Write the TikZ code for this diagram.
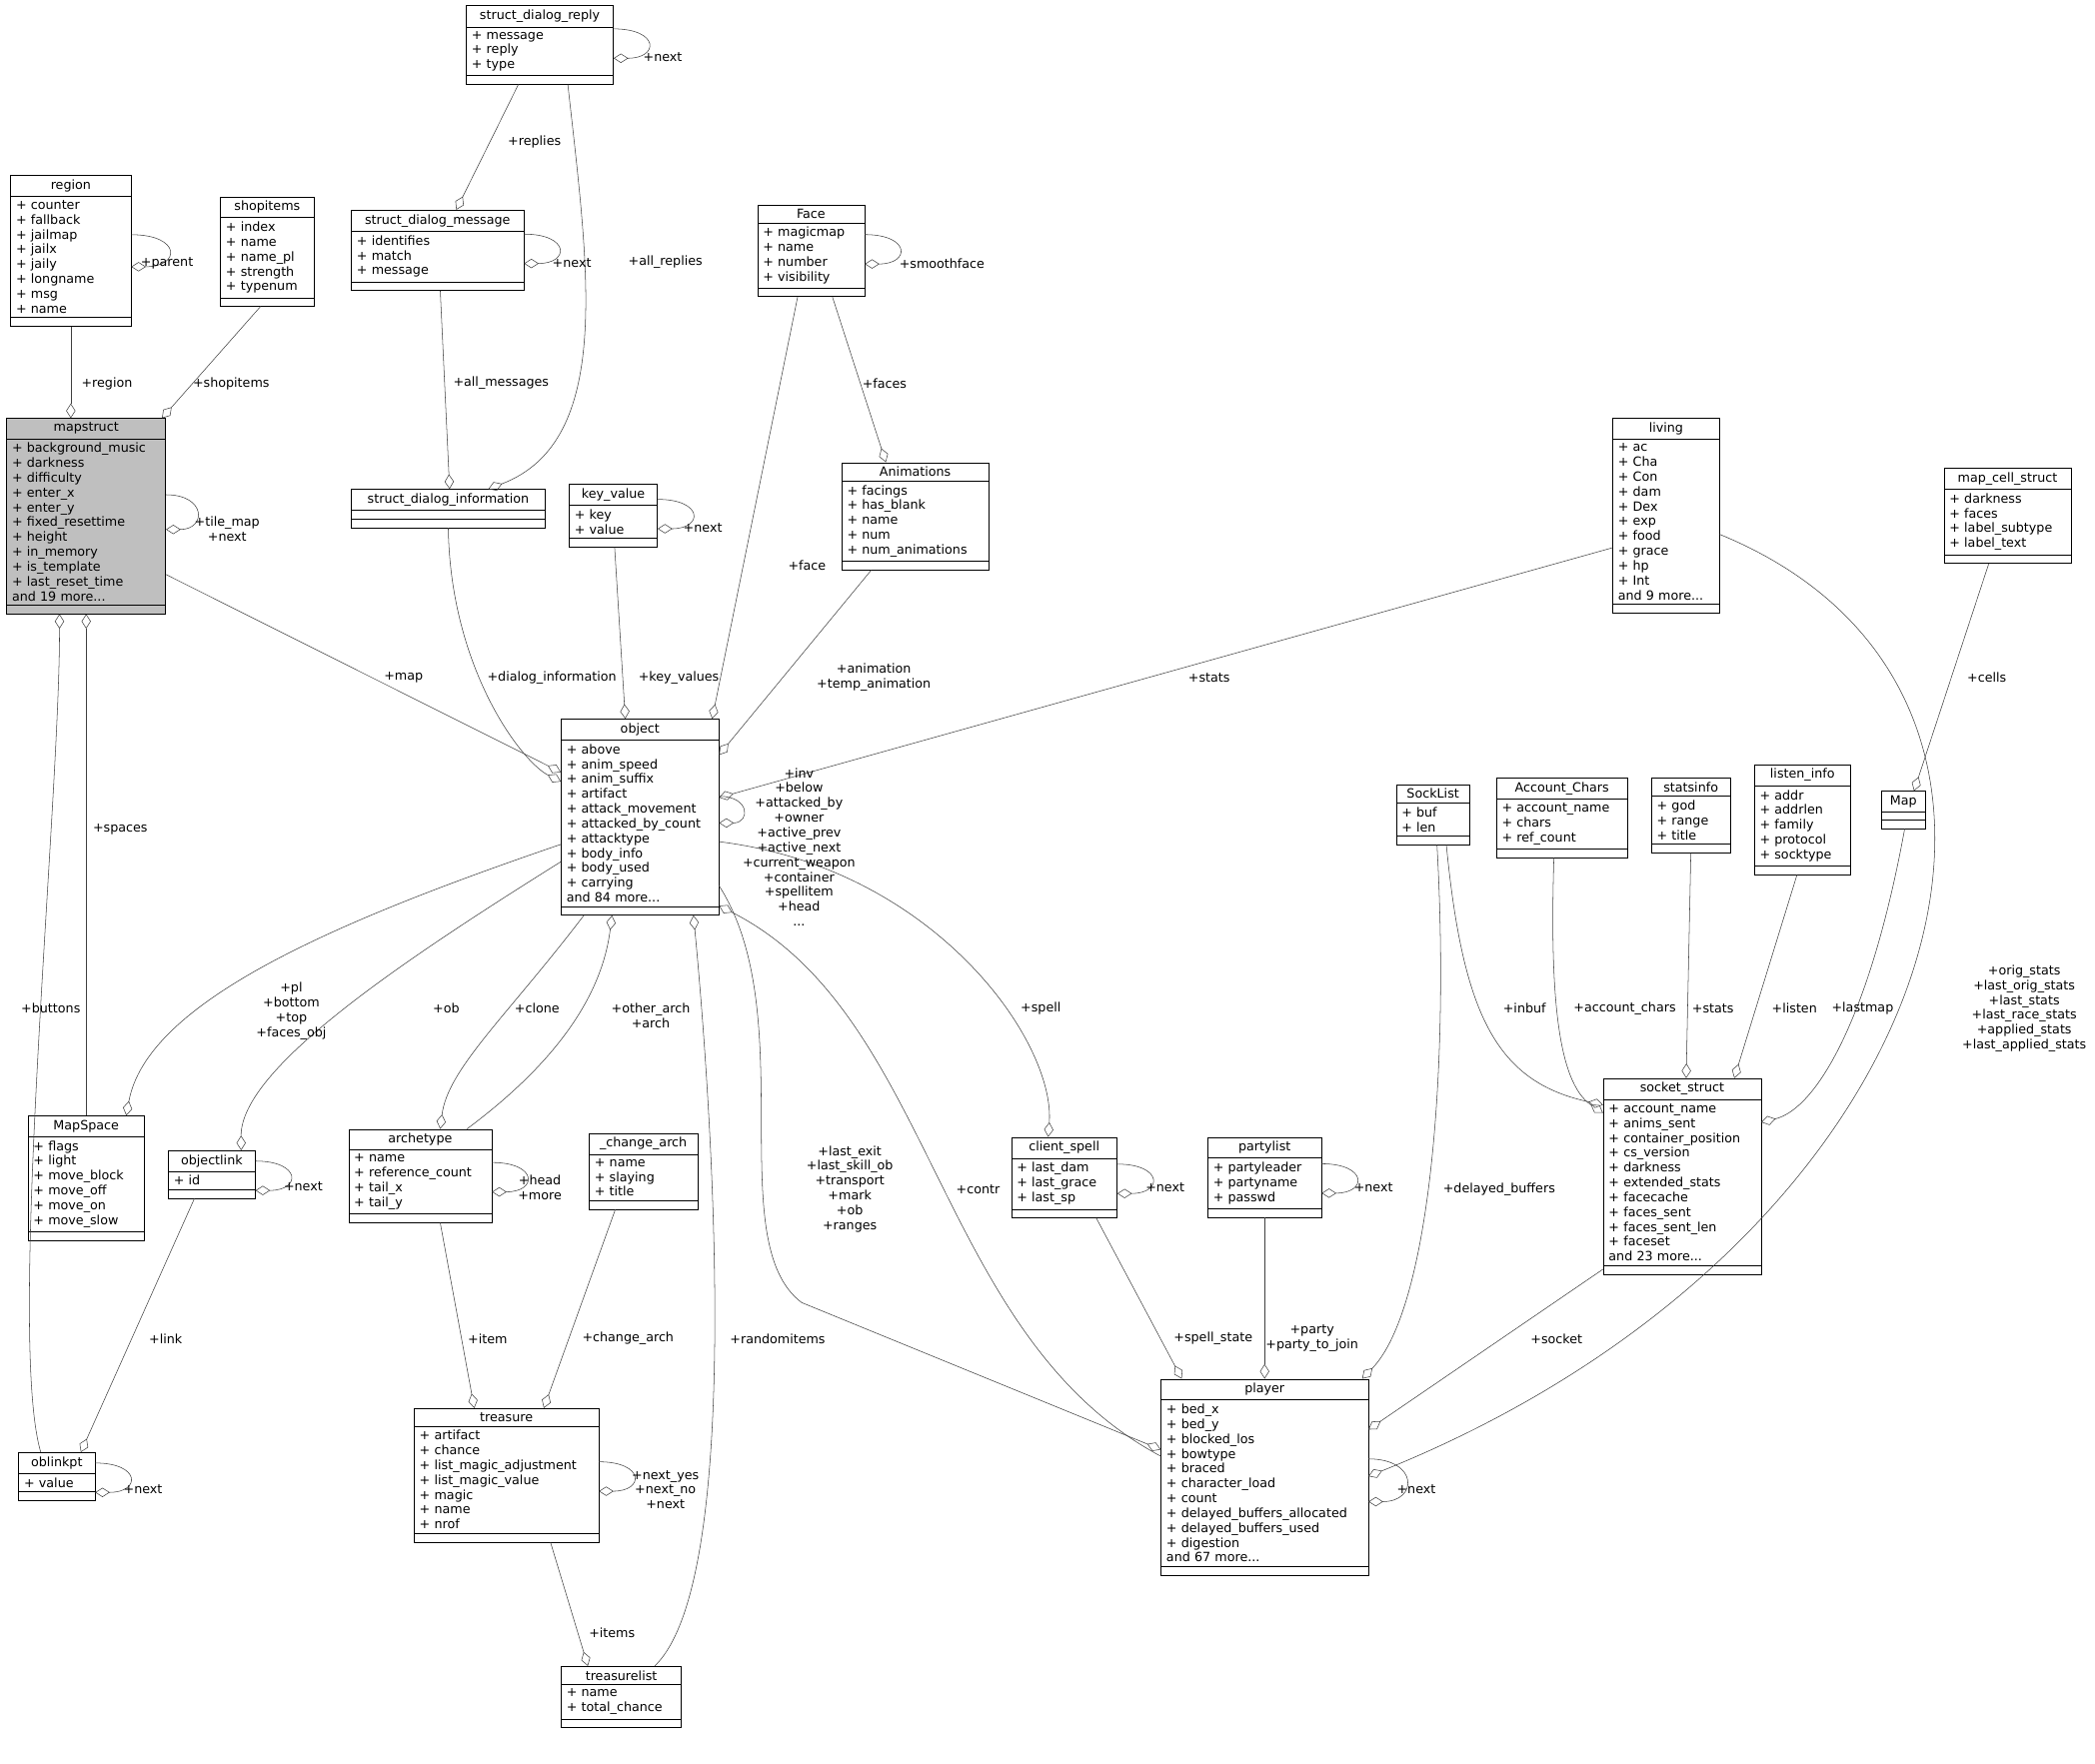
\documentclass[tikz,border=0pt]{standalone}
\usepackage{fontspec}
\setmainfont{DejaVu Sans}
\usetikzlibrary{shapes.multipart, arrows.meta}
\tikzset{
  cls/.style={rectangle split, rectangle split parts=3, draw=black, anchor=north,
    inner xsep=4pt, inner ysep=3pt, rectangle split empty part height=11pt,
    font=\fontsize{9.5}{11.1}\selectfont},
  agg/.style={draw=black!75, -{Diamond[open,length=11pt,width=7pt]}},
  lbl/.style={font=\fontsize{9.5}{11.1}\selectfont, align=center, inner sep=0pt}
}
\newcommand{\ttl}[1]{\makebox[\linewidth]{#1}}
\begin{document}
\begin{tikzpicture}[x=1pt,y=-1pt]
\useasboundingbox (0,0) rectangle (1568,1320);
% classes
\node (region) [cls, text width=82pt] at (53,131) {\ttl{region}\nodepart{two}+ counter\\+ fallback\\+ jailmap\\+ jailx\\+ jaily\\+ longname\\+ msg\\+ name\nodepart{three}};
\node (shopitems) [cls, text width=62pt] at (200,147) {\ttl{shopitems}\nodepart{two}+ index\\+ name\\+ name\_pl\\+ strength\\+ typenum\nodepart{three}};
\node (mapstruct) [cls, text width=111pt, fill=black!25] at (64.5,313) {\ttl{mapstruct}\nodepart{two}+ background\_music\\+ darkness\\+ difficulty\\+ enter\_x\\+ enter\_y\\+ fixed\_resettime\\+ height\\+ in\_memory\\+ is\_template\\+ last\_reset\_time\\and 19 more...\nodepart{three}};
\node (reply) [cls, text width=102pt] at (404,4) {\ttl{struct\_dialog\_reply}\nodepart{two}+ message\\+ reply\\+ type\nodepart{three}};
\node (message) [cls, text width=121pt] at (327.5,157) {\ttl{struct\_dialog\_message}\nodepart{two}+ identifies\\+ match\\+ message\nodepart{three}};
\node (dinfo) [cls, text width=137pt] at (335.5,366) {\ttl{struct\_dialog\_information}\nodepart{two}\nodepart{three}};
\node (keyvalue) [cls, text width=58pt] at (459,362) {\ttl{key\_value}\nodepart{two}+ key\\+ value\nodepart{three}};
\node (face) [cls, text width=72pt] at (607,153) {\ttl{Face}\nodepart{two}+ magicmap\\+ name\\+ number\\+ visibility\nodepart{three}};
\node (anims) [cls, text width=102pt] at (685,346) {\ttl{Animations}\nodepart{two}+ facings\\+ has\_blank\\+ name\\+ num\\+ num\_animations\nodepart{three}};
\node (living) [cls, text width=72pt] at (1247,313) {\ttl{living}\nodepart{two}+ ac\\+ Cha\\+ Con\\+ dam\\+ Dex\\+ exp\\+ food\\+ grace\\+ hp\\+ Int\\and 9 more...\nodepart{three}};
\node (mapcell) [cls, text width=87pt] at (1502.5,350) {\ttl{map\_cell\_struct}\nodepart{two}+ darkness\\+ faces\\+ label\_subtype\\+ label\_text\nodepart{three}};
\node (object) [cls, text width=110pt] at (479,538) {\ttl{object}\nodepart{two}+ above\\+ anim\_speed\\+ anim\_suffix\\+ artifact\\+ attack\_movement\\+ attacked\_by\_count\\+ attacktype\\+ body\_info\\+ body\_used\\+ carrying\\and 84 more...\nodepart{three}};
\node (socklist) [cls, text width=47pt] at (1072.5,587) {\ttl{SockList}\nodepart{two}+ buf\\+ len\nodepart{three}};
\node (accchars) [cls, text width=90pt] at (1169,582) {\ttl{Account\_Chars}\nodepart{two}+ account\_name\\+ chars\\+ ref\_count\nodepart{three}};
\node (statsinfo) [cls, text width=51pt] at (1265.5,582) {\ttl{statsinfo}\nodepart{two}+ god\\+ range\\+ title\nodepart{three}};
\node (listen) [cls, text width=64pt] at (1349,572) {\ttl{listen\_info}\nodepart{two}+ addr\\+ addrlen\\+ family\\+ protocol\\+ socktype\nodepart{three}};
\node (map) [cls, text width=25pt] at (1424.5,592) {\ttl{Map}\nodepart{two}\nodepart{three}};
\node (mapspace) [cls, text width=79pt] at (64.5,835) {\ttl{MapSpace}\nodepart{two}+ flags\\+ light\\+ move\_block\\+ move\_off\\+ move\_on\\+ move\_slow\nodepart{three}};
\node (objlink) [cls, text width=57pt] at (158.5,861) {\ttl{objectlink}\nodepart{two}+ id\nodepart{three}};
\node (arch) [cls, text width=99pt] at (314.5,845) {\ttl{archetype}\nodepart{two}+ name\\+ reference\_count\\+ tail\_x\\+ tail\_y\nodepart{three}};
\node (chgarch) [cls, text width=73pt] at (481.5,848) {\ttl{\_change\_arch}\nodepart{two}+ name\\+ slaying\\+ title\nodepart{three}};
\node (cspell) [cls, text width=71pt] at (796.5,851) {\ttl{client\_spell}\nodepart{two}+ last\_dam\\+ last\_grace\\+ last\_sp\nodepart{three}};
\node (party) [cls, text width=77pt] at (946.5,851) {\ttl{partylist}\nodepart{two}+ partyleader\\+ partyname\\+ passwd\nodepart{three}};
\node (socket) [cls, text width=110pt] at (1259,807) {\ttl{socket\_struct}\nodepart{two}+ account\_name\\+ anims\_sent\\+ container\_position\\+ cs\_version\\+ darkness\\+ extended\_stats\\+ facecache\\+ faces\_sent\\+ faces\_sent\_len\\+ faceset\\and 23 more...\nodepart{three}};
\node (oblinkpt) [cls, text width=49pt] at (42.5,1087) {\ttl{oblinkpt}\nodepart{two}+ value\nodepart{three}};
\node (treasure) [cls, text width=130pt] at (379,1054) {\ttl{treasure}\nodepart{two}+ artifact\\+ chance\\+ list\_magic\_adjustment\\+ list\_magic\_value\\+ magic\\+ name\\+ nrof\nodepart{three}};
\node (tlist) [cls, text width=82pt] at (465,1247) {\ttl{treasurelist}\nodepart{two}+ name\\+ total\_chance\nodepart{three}};
\node (player) [cls, text width=147pt] at (946.5,1032) {\ttl{player}\nodepart{two}+ bed\_x\\+ bed\_y\\+ blocked\_los\\+ bowtype\\+ braced\\+ character\_load\\+ count\\+ delayed\_buffers\_allocated\\+ delayed\_buffers\_used\\+ digestion\\and 67 more...\nodepart{three}};

% connectors
\draw [agg] (region.south) -- (mapstruct.north -| region.south);
\draw [agg] ([xshift=-5pt]shopitems.south) -- ([xshift=-3pt]mapstruct.north east);
\draw [agg] ([yshift=12pt]region.east) to[out=0,in=0,looseness=4] ([yshift=-12pt]region.east);
\draw [agg] ([yshift=16pt]mapstruct.east) to[out=0,in=0,looseness=3] ([yshift=-10pt]mapstruct.east);
\draw [agg] ([yshift=12pt]reply.east) to[out=0,in=0,looseness=4] ([yshift=-10pt]reply.east);
\draw [agg] ([xshift=-16pt]reply.south) -- ([xshift=14pt]message.north);
\draw [agg] ([yshift=12pt]message.east) to[out=0,in=0,looseness=4] ([yshift=-10pt]message.east);
\draw [agg] ([xshift=2pt]message.south) -- ([xshift=1pt]dinfo.north);
\draw [agg] ([xshift=21pt]reply.south) .. controls (440,200) and (460,330) .. ([xshift=30pt]dinfo.north);
\draw [agg] ([yshift=12pt]face.east) to[out=0,in=0,looseness=4] ([yshift=-10pt]face.east);
\draw [agg] ([xshift=16pt]face.south) -- ([xshift=-22pt]anims.north);
\draw [agg] ([xshift=-10pt]face.south) -- ([xshift=54pt]object.north);
\draw [agg] ([yshift=12pt]keyvalue.east) to[out=0,in=0,looseness=4] ([yshift=-10pt]keyvalue.east);
\draw [agg] ([xshift=1pt]keyvalue.south) -- ([xshift=-11pt]object.north);
\draw [agg] (dinfo.south) .. controls (337,500) and (390,570) .. ([yshift=-47pt]object.north west);
\draw [agg] ([yshift=-117pt]mapstruct.north east) -- ([yshift=-40pt]object.north west);
\draw [agg] ([xshift=-33pt]anims.south) -- ([yshift=-27pt]object.north east);
\draw [agg] ([yshift=-97pt]living.north west) -- ([yshift=-59pt]object.north east);
\draw [agg] ([yshift=-58pt]object.north east) to[out=0,in=0,looseness=3] ([yshift=-78pt]object.north east);
\draw [agg] ([xshift=-14pt]mapcell.south) -- ([xshift=8pt]map.north);
\draw [agg] (mapspace.north) -- (mapstruct.south -| mapspace.north);
\draw [agg] ([xshift=-12pt]oblinkpt.north) .. controls (5,1000) and (45,600) .. ([xshift=-20pt]mapstruct.south);
\draw [agg] ([yshift=-94pt]object.north west) .. controls (250,690) and (110,750) .. ([xshift=30pt]mapspace.north);
\draw [agg] ([yshift=-107pt]object.north west) .. controls (300,720) and (180,800) .. ([xshift=22pt]objlink.north);
\draw [agg] ([xshift=-42pt]object.south) .. controls (380,760) and (335,800) .. ([xshift=15pt]arch.north);
\draw [agg] ([xshift=35pt]arch.north) .. controls (410,800) and (450,750) .. ([xshift=-21pt]object.south);
\draw [agg] ([yshift=10pt]arch.east) to[out=0,in=0,looseness=4] ([yshift=-12pt]arch.east);
\draw [agg] ([yshift=10pt]objlink.east) to[out=0,in=0,looseness=4] ([yshift=-12pt]objlink.east);
\draw [agg] ([xshift=-13pt]objlink.south) -- ([xshift=18pt]oblinkpt.north);
\draw [agg] ([yshift=10pt]oblinkpt.east) to[out=0,in=0,looseness=4] ([yshift=-12pt]oblinkpt.east);
\draw [agg] ([xshift=15pt]arch.south) -- ([xshift=-24pt]treasure.north);
\draw [agg] ([xshift=-21pt]chgarch.south) -- ([xshift=28pt]treasure.north);
\draw [agg] ([yshift=10pt]treasure.east) to[out=0,in=0,looseness=4] ([yshift=-12pt]treasure.east);
\draw [agg] ([xshift=33pt]treasure.south) -- ([xshift=-25pt]tlist.north);
\draw [agg] ([xshift=25pt]tlist.north) .. controls (560,1180) and (530,800) .. ([xshift=40pt]object.south);
\draw [agg] ([yshift=-125pt]object.north east) .. controls (600,760) and (540,930) .. (600,975) -- ([yshift=-53pt]player.north west);
\draw [agg] ([yshift=-58pt]player.north west) .. controls (700,1000) and (700,760) .. ([yshift=-140pt]object.north east);
\draw [agg] ([yshift=-92pt]object.north east) .. controls (700,650) and (790,780) .. ([xshift=-12pt]cspell.north);
\draw [agg] ([yshift=10pt]cspell.east) to[out=0,in=0,looseness=4] ([yshift=-12pt]cspell.east);
\draw [agg] ([xshift=24pt]cspell.south) -- ([xshift=-62pt]player.north);
\draw [agg] ([yshift=10pt]party.east) to[out=0,in=0,looseness=4] ([yshift=-12pt]party.east);
\draw [agg] (party.south) -- (player.north);
\draw [agg] ([xshift=3pt]socklist.south) .. controls (1085,800) and (1070,980) .. ([xshift=73pt]player.north);
\draw [agg] ([xshift=10pt]socklist.south) .. controls (1095,760) and (1120,810) .. ([yshift=-20pt]socket.north west);
\draw [agg] ([xshift=-6pt]accchars.south) .. controls (1160,740) and (1165,810) .. ([yshift=-26pt]socket.north west);
\draw [agg] (statsinfo.south) -- ([xshift=3pt]socket.north);
\draw [agg] ([xshift=-4pt]listen.south) -- ([xshift=39pt]socket.north);
\draw [agg] ([xshift=1pt]map.south) .. controls (1400,760) and (1360,830) .. ([yshift=-33pt]socket.north east);
\draw [agg] ([yshift=-143pt]socket.north west) -- ([yshift=-38pt]player.north east);
\draw [agg] ([yshift=-87pt]living.north east) .. controls (1580,520) and (1460,930) .. ([yshift=-73pt]player.north east);
\draw [agg] ([yshift=-60pt]player.north east) to[out=0,in=0,looseness=3] ([yshift=-92pt]player.north east);

% labels
\node (l1) [lbl] at (80,287) {+region};
\node (l2) [lbl] at (173,287) {+shopitems};
\node (l3) [lbl] at (125,197) {+parent};
\node (l4) [lbl] at (170,396) {+tile\_map\\+next};
\node (l5) [lbl] at (496,43) {+next};
\node (l6) [lbl] at (400,106) {+replies};
\node (l7) [lbl] at (428,197) {+next};
\node (l8) [lbl] at (375,287) {+all\_messages};
\node (l9) [lbl] at (498,196) {+all\_replies};
\node (l10) [lbl] at (705,197) {+smoothface};
\node (l11) [lbl] at (662,287) {+faces};
\node (l12) [lbl] at (604,423) {+face};
\node (l13) [lbl] at (526,395) {+next};
\node (l14) [lbl] at (508,507) {+key\_values};
\node (l15) [lbl] at (413,507) {+dialog\_information};
\node (l16) [lbl] at (302,507) {+map};
\node (l17) [lbl] at (654,507) {+animation\\+temp\_animation};
\node (l18) [lbl] at (905,507) {+stats};
\node (l19) [lbl] at (598,634) {+inv\\+below\\+attacked\_by\\+owner\\+active\_prev\\+active\_next\\+current\_weapon\\+container\\+spellitem\\+head\\...};
\node (l20) [lbl] at (1487,507) {+cells};
\node (l21) [lbl] at (90,621) {+spaces};
\node (l22) [lbl] at (38,755) {+buttons};
\node (l23) [lbl] at (218,757) {+pl\\+bottom\\+top\\+faces\_obj};
\node (l24) [lbl] at (334,755) {+ob};
\node (l25) [lbl] at (402,755) {+clone};
\node (l26) [lbl] at (487,760) {+other\_arch\\+arch};
\node (l27) [lbl] at (404,889) {+head\\+more};
\node (l28) [lbl] at (227,888) {+next};
\node (l29) [lbl] at (124,1002) {+link};
\node (l30) [lbl] at (107,1115) {+next};
\node (l31) [lbl] at (365,1002) {+item};
\node (l32) [lbl] at (470,1002) {+change\_arch};
\node (l33) [lbl] at (498,1115) {+next\_yes\\+next\_no\\+next};
\node (l34) [lbl] at (458,1222) {+items};
\node (l35) [lbl] at (582,1002) {+randomitems};
\node (l36) [lbl] at (636,890) {+last\_exit\\+last\_skill\_ob\\+transport\\+mark\\+ob\\+ranges};
\node (l37) [lbl] at (732,890) {+contr};
\node (l38) [lbl] at (779,755) {+spell};
\node (l39) [lbl] at (872,889) {+next};
\node (l40) [lbl] at (908,1002) {+spell\_state};
\node (l41) [lbl] at (1028,889) {+next};
\node (l42) [lbl] at (982,1002) {+party\\+party\_to\_join};
\node (l43) [lbl] at (1122,890) {+delayed\_buffers};
\node (l44) [lbl] at (1141,755) {+inbuf};
\node (l45) [lbl] at (1216,755) {+account\_chars};
\node (l46) [lbl] at (1282,755) {+stats};
\node (l47) [lbl] at (1343,755) {+listen};
\node (l48) [lbl] at (1394,755) {+lastmap};
\node (l49) [lbl] at (1165,1002) {+socket};
\node (l50) [lbl] at (1515,755) {+orig\_stats\\+last\_orig\_stats\\+last\_stats\\+last\_race\_stats\\+applied\_stats\\+last\_applied\_stats};
\node (l51) [lbl] at (1060,1115) {+next};
\end{tikzpicture}
\end{document}
